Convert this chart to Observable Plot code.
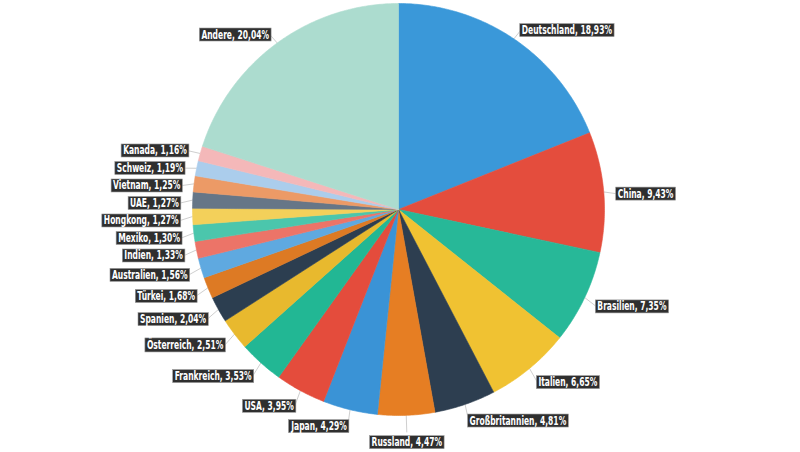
<!DOCTYPE html>
<html>
<head>
<meta charset="utf-8">
<script src="https://cdn.jsdelivr.net/npm/d3@7"></script>
<script src="https://cdn.jsdelivr.net/npm/@observablehq/plot@0.6"></script>
<style>
  body { margin: 0; background: #fff; }
  #chart svg { display: block; }
</style>
</head>
<body>
<div id="chart"></div>
<script>
// ---- data ----
const countries = ["Deutschland", "China", "Brasilien", "Italien", "Großbritannien", "Russland",
  "Japan", "USA", "Frankreich", "Österreich", "Spanien", "Türkei", "Australien", "Indien",
  "Mexiko", "Hongkong", "UAE", "Vietnam", "Schweiz", "Kanada", "Andere"];
const shares = [18.93, 9.43, 7.35, 6.65, 4.81, 4.47, 4.29, 3.95, 3.53, 2.51, 2.04, 1.68, 1.56, 1.33,
  1.30, 1.27, 1.27, 1.25, 1.19, 1.16, 20.04];
const shareLabels = ["18,93%", "9,43%", "7,35%", "6,65%", "4,81%", "4,47%", "4,29%", "3,95%", "3,53%",
  "2,51%", "2,04%", "1,68%", "1,56%", "1,33%", "1,30%", "1,27%", "1,27%", "1,25%", "1,19%", "1,16%", "20,04%"];
const sliceColors = ["#3a98d9", "#e44d3d", "#27b898", "#f0c232", "#2d3e50", "#e67e23",
  "#3a93d6", "#e44c3c", "#22b794", "#e8b92e", "#2c3e50", "#dd7a24", "#5fa9e0", "#ec7468",
  "#4bc6ac", "#f3d05a", "#667687", "#ec9a66", "#abcdec", "#f4b8b9", "#acdccf"];

// ---- layout ----
const W = 800, H = 452;
const cx = 398, cy = 209;      // pie centre in pixels
const R = 206;                 // pie radius
const RL = 220;                // label radius
const GAP = 17.5;              // min vertical distance between stacked labels
const CONDENSE = 0.7;          // horizontal squeeze of label text

const total = d3.sum(shares);
let acc = 0;
const slices = countries.map((name, i) => {
  const a0 = acc / total * 2 * Math.PI;
  acc += shares[i];
  const a1 = acc / total * 2 * Math.PI;
  return { name, value: shares[i], label: `${name}, ${shareLabels[i]}`, a0, a1, mid: (a0 + a1) / 2 };
});

// wedge outlines (data units = pixels relative to centre, y downwards)
const wedgePts = slices.flatMap(s => {
  const n = Math.max(2, Math.ceil((s.a1 - s.a0) / 0.01));
  const pts = [{ name: s.name, x: 0, y: 0 }];
  for (let k = 0; k <= n; k++) {
    const a = s.a0 + (s.a1 - s.a0) * k / n;
    pts.push({ name: s.name, x: R * Math.sin(a), y: -R * Math.cos(a) });
  }
  pts.push({ name: s.name, x: 0, y: 0 });
  return pts;
});

// label positions
const labels = slices.map(s => {
  const sx = Math.sin(s.mid), cy_ = Math.cos(s.mid);
  const side = Math.abs(sx) < 0.15 ? "middle" : (sx > 0 ? "start" : "end");
  return { ...s, side, ex: R * sx, ey: -R * cy_, x: RL * sx, y: -RL * cy_ + 3 };
});
// resolve vertical overlaps on each side (cluster method)
for (const side of ["start", "end"]) {
  const L = labels.filter(d => d.side === side).sort((a, b) => a.y - b.y);
  let clusters = L.map(d => ({ items: [d], natural: [d.y] }));
  const place = c => {
    const mean = d3.mean(c.natural);
    const n = c.items.length;
    c.items.forEach((d, i) => d.y = mean + (i - (n - 1) / 2) * GAP);
  };
  let changed = true;
  while (changed) {
    changed = false;
    for (let i = 1; i < clusters.length; i++) {
      const a = clusters[i - 1], b = clusters[i];
      if (b.items[0].y - a.items[a.items.length - 1].y < GAP) {
        const m = { items: a.items.concat(b.items), natural: a.natural.concat(b.natural) };
        place(m);
        clusters.splice(i - 1, 2, m);
        changed = true;
        break;
      }
    }
  }
}
labels.forEach(d => {
  d.lx = d.side === "start" ? d.x - 1 : d.side === "end" ? d.x + 1 : d.x;
  d.ly = d.y;
  if (d.side === "middle") d.y += 10;
});

const textStyle = {
  x: "x", y: "y", text: "label",
  fill: "#fff", fontSize: 12, fontWeight: "bold",
  fontFamily: "'DejaVu Sans Condensed', 'DejaVu Sans', sans-serif"
};

const chart = Plot.plot({
  width: W, height: H,
  margin: 0,
  x: { domain: [-cx, W - cx], range: [0, W], axis: null },
  y: { domain: [-cy, H - cy], range: [0, H], axis: null },
  color: { domain: countries, range: sliceColors },
  style: { background: "#fff", overflow: "visible" },
  marks: [
    Plot.link(labels, {
      x1: "ex", y1: "ey", x2: "lx", y2: "ly",
      stroke: "#cfcfcf", strokeWidth: 1
    }),
    Plot.line(wedgePts, {
      x: "x", y: "y", z: "name", fill: "name", stroke: "name",
      strokeWidth: 0.6, curve: "linear"
    }),
    Plot.text(labels.filter(d => d.side === "start"), { ...textStyle, textAnchor: "start" }),
    Plot.text(labels.filter(d => d.side === "end"), { ...textStyle, textAnchor: "end" }),
    Plot.text(labels.filter(d => d.side === "middle"), { ...textStyle, textAnchor: "middle" })
  ]
});

document.getElementById("chart").appendChild(chart);

// condense label text and draw dark boxes sized from the rendered text
const ns = "http://www.w3.org/2000/svg";
chart.querySelectorAll('g[aria-label="text"] text').forEach(t => {
  const w0 = t.getComputedTextLength();
  t.setAttribute("textLength", (w0 * CONDENSE).toFixed(2));
  t.setAttribute("lengthAdjust", "spacingAndGlyphs");
  const b = t.getBBox();
  const r = document.createElementNS(ns, "rect");
  r.setAttribute("x", b.x - 2);
  r.setAttribute("y", b.y + 0.5);
  r.setAttribute("width", b.width + 4);
  r.setAttribute("height", b.height - 1);
  r.setAttribute("fill", "#2f2f2f");
  r.setAttribute("stroke", "#9a9a9a");
  r.setAttribute("stroke-width", 0.6);
  const tr = t.getAttribute("transform");
  if (tr) r.setAttribute("transform", tr);
  t.parentNode.insertBefore(r, t);
});
</script>
</body>
</html>
